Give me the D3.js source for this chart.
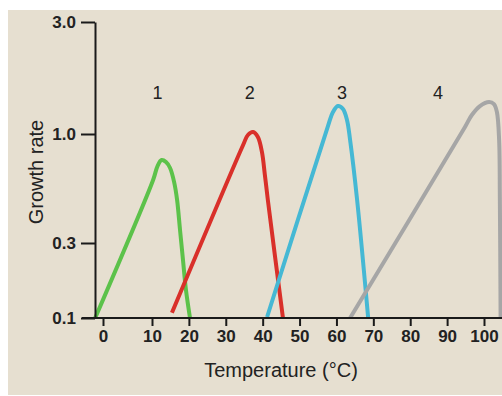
<!DOCTYPE html>
<html>
<head>
<meta charset="utf-8">
<script src="https://cdn.jsdelivr.net/npm/d3@7"></script>
<style>
  body { margin: 0; background: #fff; }
  text { font-family: "Liberation Sans", Arial, sans-serif; fill: #222; }
</style>
</head>
<body>
<script>
// growth rate vs temperature, four organisms
var names = ["1", "2", "3", "4"];
var colors = ["#5cc24a", "#d9302a", "#45b8d4", "#a6a6a6"];

var temp1 = [-1.6, 10.3, 11.5, 12.6, 13.8, 14.9, 16.0, 16.8, 17.6, 18.4, 19.2, 20.3];
var rate1 = [0.1, 0.602, 0.702, 0.75, 0.734, 0.687, 0.588, 0.483, 0.346, 0.234, 0.151, 0.1];

var temp2 = [15.4, 34.7, 36.0, 37.4, 38.7, 39.8, 40.6, 41.4, 45.5];
var rate2 = [0.108, 0.886, 0.989, 1.02, 0.967, 0.82, 0.636, 0.483, 0.1];

var temp3 = [41.2, 57.7, 59.06, 60.4, 61.77, 62.86, 63.7, 65.6, 68.6];
var rate3 = [0.1015, 1.081, 1.241, 1.316, 1.278, 1.147, 0.936, 0.483, 0.1];

var temp4 = [63.7, 94.85, 96.7, 98.9, 101.4, 102.7, 103.5, 104.1, 104.3, 104.5];
var rate4 = [0.1, 1.071, 1.205, 1.316, 1.369, 1.342, 1.241, 0.936, 0.483, 0.1];

var labelTemps = [11.5, 36.5, 61.5, 87.5];
var labelRate = 1.5;

var xTicks = [0, 10, 20, 30, 40, 50, 60, 70, 80, 90, 100];
var yTicks = [0.1, 0.3, 1, 3];

var width = 502, height = 396;

var svg = d3.select("body").append("svg")
  .attr("width", width)
  .attr("height", height);

// beige panel
svg.append("rect")
  .attr("x", 8).attr("y", 10)
  .attr("width", width - 8).attr("height", height - 11)
  .attr("fill", "#e6dfd0");

// the printed axes are not quite even, so piecewise scales
var x = d3.scaleLinear()
  .domain([0, 10, 100])
  .range([103, 152, 484]);

var y = d3.scaleLog()
  .domain([0.1, 0.3, 1, 3])
  .range([318, 243, 134, 22]);

var series = [
  {t: temp1, r: rate1},
  {t: temp2, r: rate2},
  {t: temp3, r: rate3},
  {t: temp4, r: rate4}
];

var line = d3.line()
  .x(function(d) { return x(d[0]); })
  .y(function(d) { return y(d[1]); })
  .curve(d3.curveCatmullRom.alpha(0.5));

svg.selectAll(".curve")
  .data(series)
  .enter().append("path")
    .attr("class", "curve")
    .attr("fill", "none")
    .attr("stroke", function(d, i) { return colors[i]; })
    .attr("stroke-width", 4)
    .attr("stroke-linejoin", "round")
    .attr("d", function(d) { return line(d3.zip(d.t, d.r)); });

// x axis
var xg = svg.append("g")
  .attr("transform", "translate(0," + y(0.1) + ")")
  .call(d3.axisBottom(x).tickValues(xTicks).tickSize(8).tickPadding(4));
xg.select(".domain").remove();
xg.append("line")
  .attr("x1", 82).attr("x2", width)
  .attr("stroke", "#1a1a1a").attr("stroke-width", 2);

// y axis
var yg = svg.append("g")
  .attr("transform", "translate(" + 95 + ",0)")
  .call(d3.axisLeft(y).tickValues(yTicks).tickSize(14).tickSizeOuter(0)
    .tickFormat(d3.format(".1f")).tickPadding(5));

svg.selectAll(".tick line, .domain")
  .attr("stroke", "#1a1a1a")
  .attr("stroke-width", 2);
svg.selectAll(".tick text")
  .style("font-family", "'Liberation Sans', Arial, sans-serif")
  .style("font-size", "17px")
  .style("font-weight", "bold")
  .attr("fill", "#2a2a2a");

// curve numbers
svg.selectAll(".lbl")
  .data(names)
  .enter().append("text")
    .attr("class", "lbl")
    .attr("x", function(d, i) { return x(labelTemps[i]); })
    .attr("y", y(labelRate) + 6)
    .attr("text-anchor", "middle")
    .style("font-size", "18px")
    .text(function(d) { return d; });

// axis titles
svg.append("text")
  .attr("x", 281).attr("y", 377)
  .attr("text-anchor", "middle")
  .style("font-size", "20px")
  .text("Temperature (°C)");

svg.append("text")
  .attr("transform", "translate(43,172) rotate(-90)")
  .attr("text-anchor", "middle")
  .style("font-size", "20px")
  .text("Growth rate");
</script>
</body>
</html>
